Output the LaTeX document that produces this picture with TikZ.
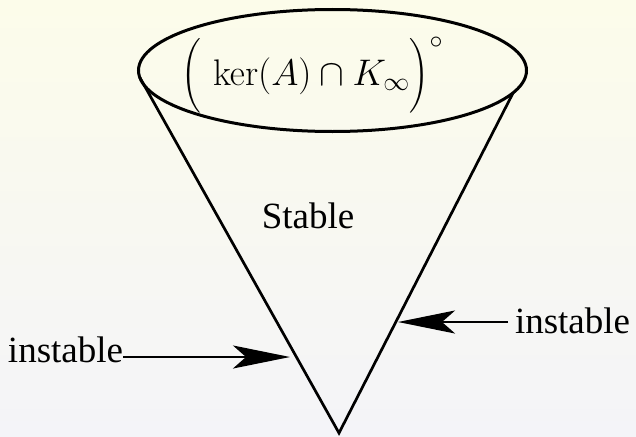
\RequirePackage{fix-cm}
\documentclass[tikz,border=0pt]{standalone}
\usepackage{amsmath}
\usepackage[no-math]{fontspec}
\setmainfont{Liberation Serif}
\usetikzlibrary{shapes.geometric,arrows.meta}
\definecolor{bgtop}{RGB}{252,252,234}
\definecolor{bgbot}{RGB}{244,244,248}
\tikzset{
  cupshape/.style={draw, ellipse, line width=3pt, minimum width=388pt, minimum height=122pt, inner sep=0pt, outer sep=0pt},
  conline/.style={line width=2.7pt, line join=miter},
  arr/.style={line width=2.5pt, -{Stealth[length=57pt, width=23pt, inset=13pt]}},
  txt/.style={inner sep=0pt, outer sep=0pt, font=\fontsize{37}{44}\selectfont},
}
\begin{document}
\begin{tikzpicture}[x=1pt,y=-1pt]
\useasboundingbox (0,0) rectangle (636,436);
\shade[top color=bgtop, bottom color=bgbot] (0,0) rectangle (636,436);
\node[cupshape] (cup) at (332.5,70.5) {};
\coordinate (apex) at (339,433);
\draw[conline] (cup.182.2) -- (apex) -- (cup.353.6);
\node[txt, anchor=base] (set) at (312,85) {$\Big(\,\ker(A)\cap K_\infty\Big)^{\circ}$};
\node[txt, anchor=base] (stable) at (308,228) {Stable};
\node[txt, anchor=base west] (ltext) at (8,362) {instable};
\node[txt, anchor=base west] (rtext) at (515,333) {instable};
\coordinate (lhit) at (290,357);
\coordinate (rhit) at (398,322);
\draw[arr] ([yshift=5pt]ltext.base east) -- (lhit);
\draw[arr] ([xshift=-7pt,yshift=11pt]rtext.base west) -- (rhit);
\end{tikzpicture}
\end{document}
